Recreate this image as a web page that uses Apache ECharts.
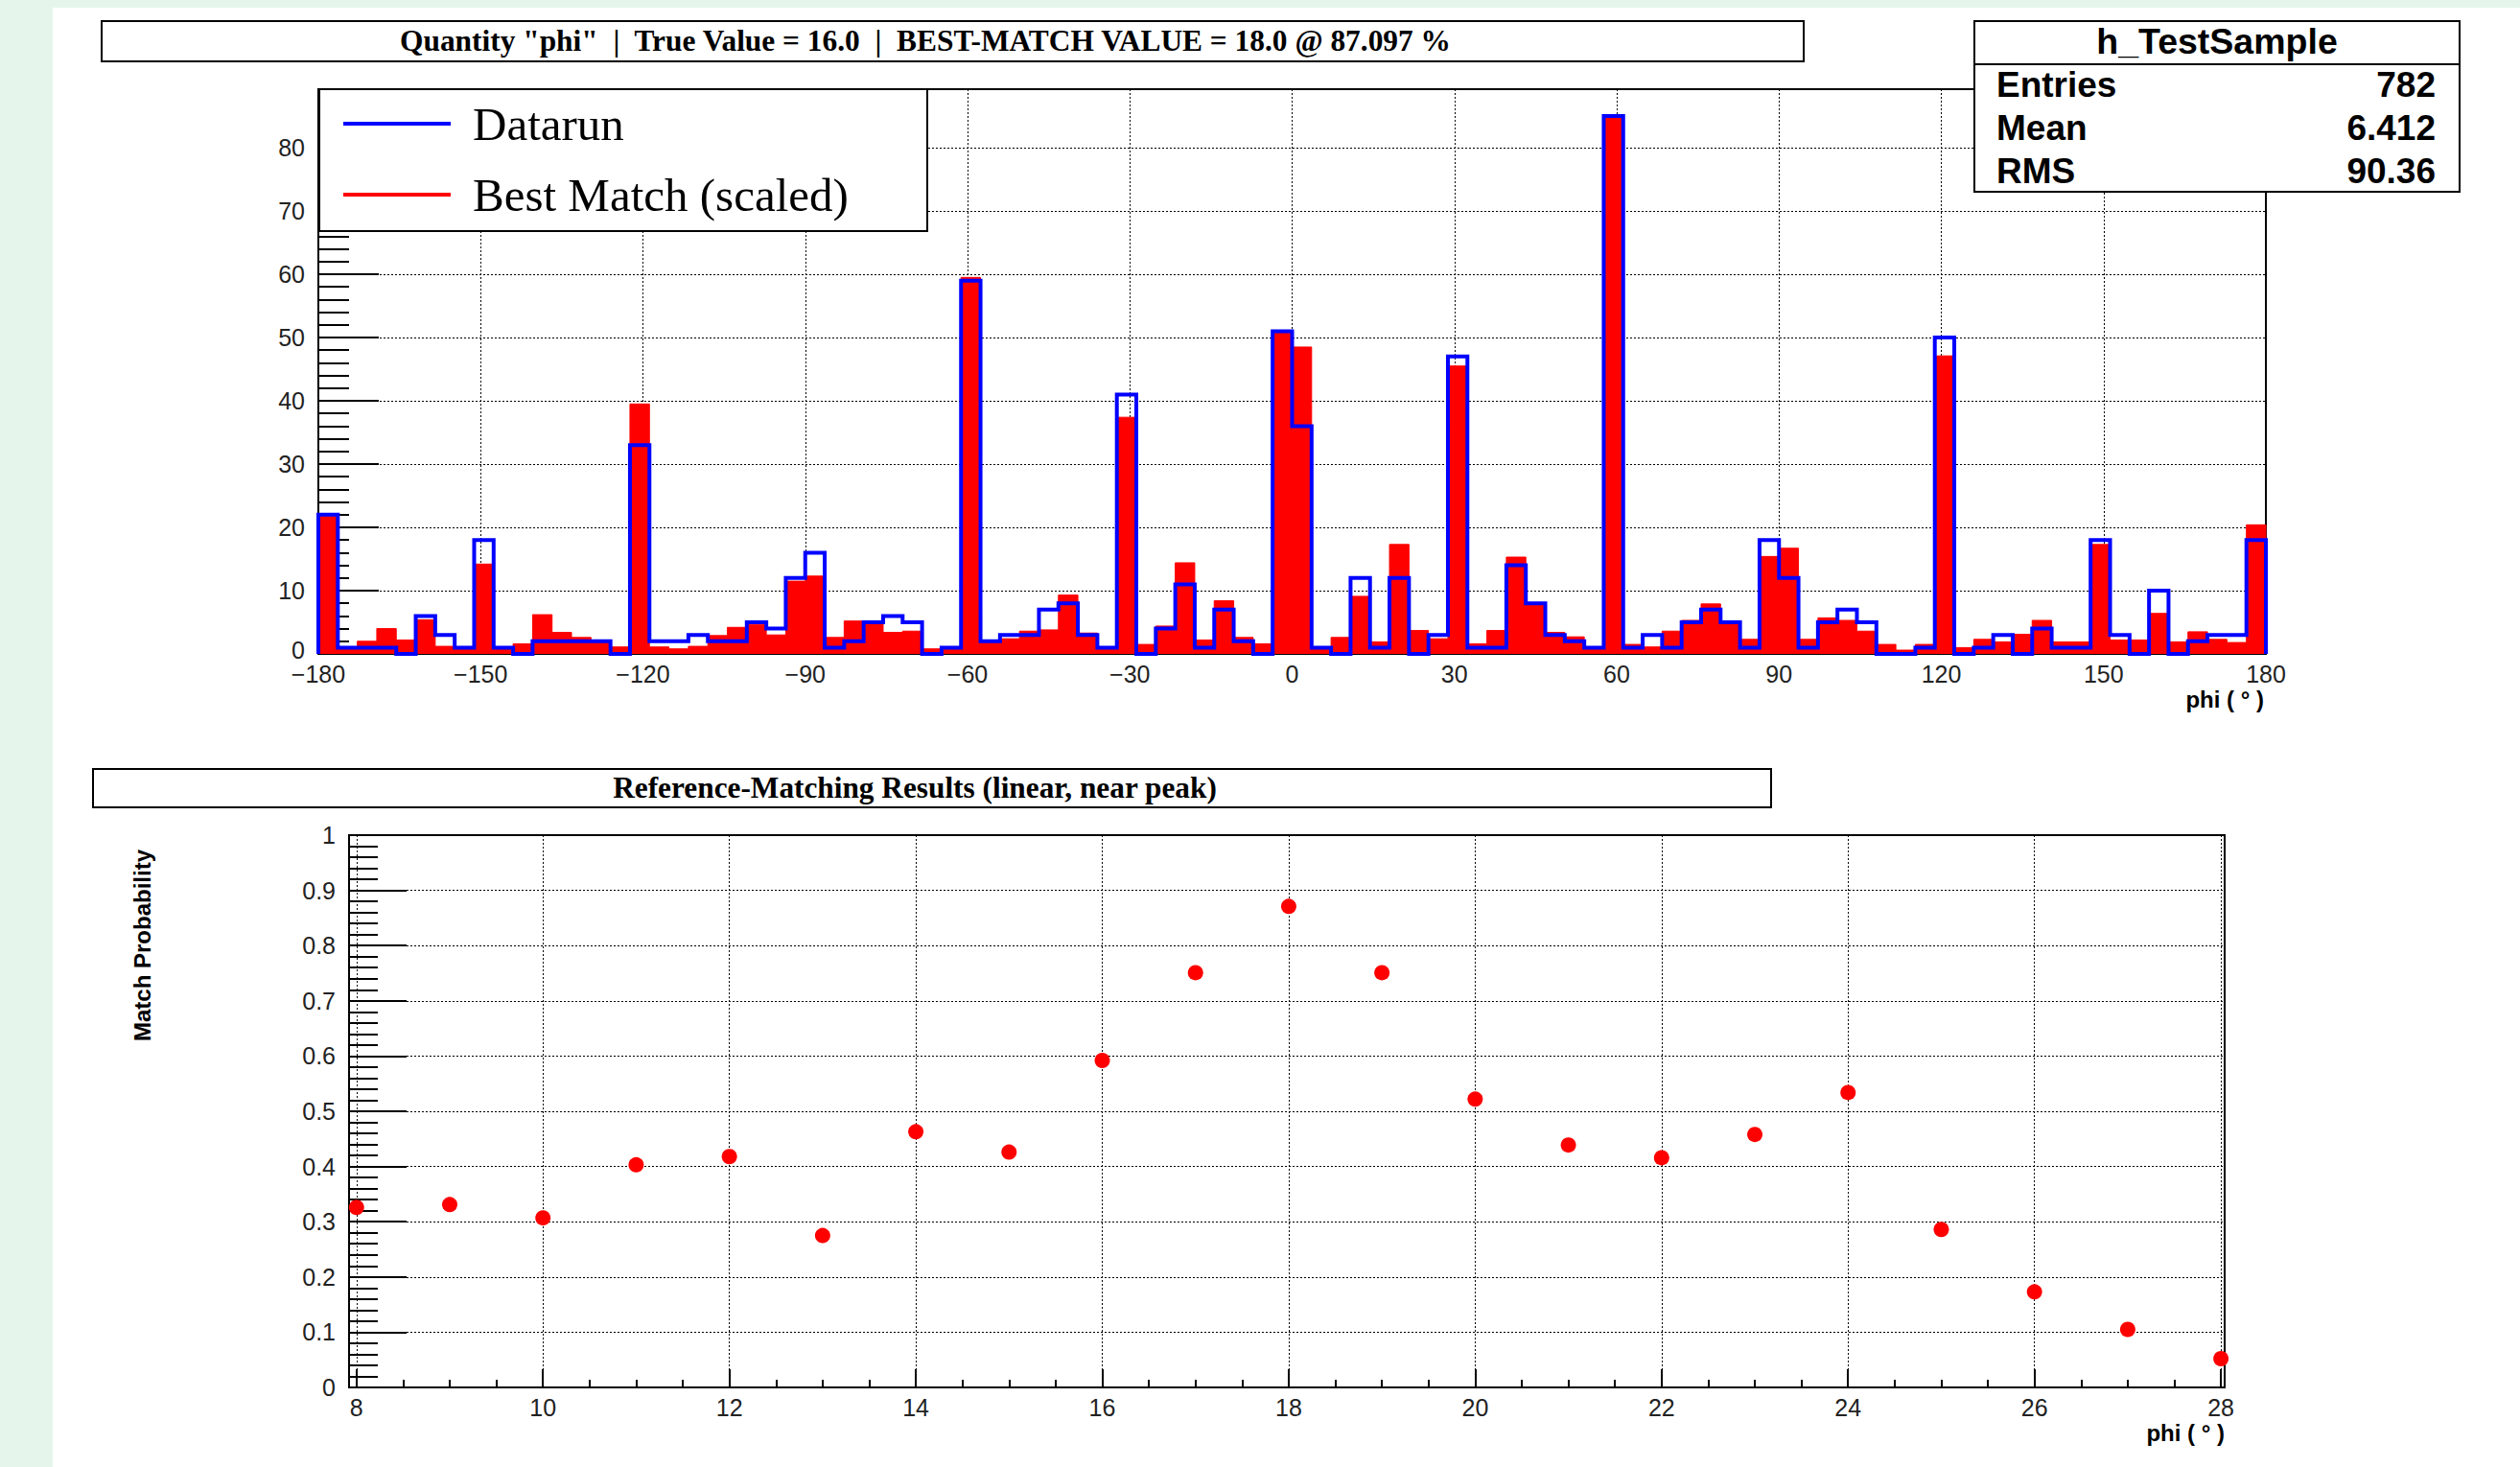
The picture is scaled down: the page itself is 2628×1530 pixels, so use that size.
<!DOCTYPE html>
<html>
<head>
<meta charset="utf-8">
<script src="https://cdn.jsdelivr.net/npm/echarts@6/dist/echarts.min.js"></script>
<style>
html,body{margin:0;padding:0;width:2628px;height:1530px;overflow:hidden;background:#e6f5ec;}
#paper{position:absolute;left:55px;top:8px;right:0;bottom:0;background:#ffffff;}
#chart{position:absolute;left:0;top:0;width:2628px;height:1530px;}
</style>
</head>
<body>
<div id="paper"></div>
<div id="chart"></div>
<script>
// ---------------- data ----------------
const HIST_MIN = -180;
const HIST_MAX = 180;

// Datarun (h_TestSample) bin contents, 100 bins over [-180, 180]
const dataRunCounts = [
  22, 1, 1, 1, 0, 6, 3, 1, 18, 1,
  0, 2, 2, 2, 2, 0, 33, 2, 2, 3,
  2, 2, 5, 4, 12, 16, 1, 2, 5, 6,
  5, 0, 1, 59, 2, 3, 3, 7, 8, 3,
  1, 41, 0, 4, 11, 1, 7, 2, 0, 51,
  36, 1, 0, 12, 1, 12, 0, 3, 47, 1,
  1, 14, 8, 3, 2, 1, 85, 1, 3, 1,
  5, 7, 5, 1, 18, 12, 1, 5, 7, 5,
  0, 0, 1, 50, 0, 1, 3, 0, 4, 1,
  1, 18, 3, 0, 10, 0, 2, 3, 3, 18
];

// Best Match (scaled) bin contents
const bestMatchScaled = [
  21.8, 1, 2, 4, 2.2, 5.4, 1.2, 1, 14.2, 1,
  1.6, 6.2, 3.4, 2.6, 2.2, 1.1, 39.5, 1.1, 0.8, 1.2,
  2.9, 4.2, 4.6, 3, 11.5, 12.3, 2.6, 5.2, 4.7, 3.4,
  3.6, 0.8, 1, 59.5, 1.8, 2.4, 3.6, 3.8, 9.3, 3.3,
  1, 37.4, 1.5, 4.4, 14.4, 2.2, 8.4, 2.6, 1.6, 51,
  48.5, 1, 2.6, 9.1, 1.9, 17.3, 3.7, 2.4, 45.5, 1.6,
  3.7, 15.3, 7.9, 3.4, 2.7, 1, 85, 1.5, 1.1, 3.6,
  5.3, 7.9, 4.7, 2.3, 15.4, 16.7, 2.3, 5.7, 5.3, 3.6,
  1.5, 0.6, 1.5, 47.1, 1, 2.3, 1.9, 3.1, 5.3, 1.9,
  1.9, 17.3, 2.2, 2.2, 6.4, 1.9, 3.5, 2.3, 1.8, 20.4
];

// Reference-matching scan
const phiScan = [8, 9, 10, 11, 12, 13, 14, 15, 16, 17, 18, 19, 20, 21, 22, 23, 24, 25, 26, 27, 28];
const matchProbability = [0.326, 0.331, 0.307, 0.403, 0.418, 0.275, 0.463, 0.426, 0.592, 0.751, 0.871,
  0.751, 0.522, 0.439, 0.416, 0.458, 0.534, 0.286, 0.173, 0.105, 0.052];

const titleTop = 'Quantity "phi"  |  True Value = 16.0  |  BEST-MATCH VALUE = 18.0 @ 87.097 %';
const titleBottom = 'Reference-Matching Results (linear, near peak)';
const statsName = 'h_TestSample';
const statsLabels = ['Entries', 'Mean', 'RMS'];
const statsValues = ['782', '6.412', '90.36'];
const legendNames = ['Datarun', 'Best Match (scaled)'];
const xTitle = 'phi ( \u00b0 )';
const yTitleBottom = 'Match Probability';

// ---------------- helpers ----------------
const binWidth = (HIST_MAX - HIST_MIN) / dataRunCounts.length;
function stepData(vals) {
  const d = [[HIST_MIN, 0]];
  vals.forEach((v, i) => d.push([HIST_MIN + i * binWidth, v]));
  d.push([HIST_MAX, vals[vals.length - 1]]);
  d.push([HIST_MAX, 0]);
  return d;
}
const minusFmt = v => String(v).replace('-', '\u2212');
const SANS = '"Liberation Sans", Arial, Helvetica, sans-serif';
const SERIF = '"Liberation Serif", "Times New Roman", serif';
const labelStyle = { fontFamily: SANS, fontSize: 25, color: '#222', lineHeight: 24 };
const gridDots = { show: true, lineStyle: { color: '#000', width: 1, type: [2, 2] } };
const blackAxis = { show: true, onZero: false, lineStyle: { color: '#000', width: 2 } };

function txt(text, x, y, font, align, vAlign, extra) {
  return Object.assign({
    type: 'text', x: x, y: y, z: 20,
    style: { text: text, font: font, fill: '#000',
      align: align, verticalAlign: vAlign, textAlign: align, textVerticalAlign: vAlign }
  }, extra || {});
}

const chart = echarts.init(document.getElementById('chart'), null, { renderer: 'svg', width: 2628, height: 1530 });

const option = {
  animation: false,
  backgroundColor: 'transparent',
  grid: [
    { left: 332, top: 93, width: 2031, height: 589, show: true, borderColor: '#000', borderWidth: 2, backgroundColor: 'transparent' },
    { left: 364, top: 871, width: 1956, height: 576, show: true, borderColor: '#000', borderWidth: 2, backgroundColor: 'transparent' }
  ],
  xAxis: [
    { gridIndex: 0, type: 'value', min: HIST_MIN, max: HIST_MAX, interval: 30,
      axisLine: blackAxis, axisTick: { show: false },
      axisLabel: Object.assign({ margin: 9, formatter: minusFmt }, labelStyle),
      splitLine: gridDots },
    { gridIndex: 1, type: 'value', position: 'bottom', min: 7.92, max: 28.04, minInterval: 2, maxInterval: 2,
      axisLine: blackAxis,
      axisTick: { show: true, inside: true, length: 19, lineStyle: { color: '#000', width: 2 } },
      axisLabel: Object.assign({ margin: 9, showMinLabel: false, showMaxLabel: false }, labelStyle),
      splitLine: gridDots },
    { gridIndex: 1, type: 'value', position: 'bottom', offset: 0, min: 7.92, max: 28.04, minInterval: 0.5, maxInterval: 0.5,
      axisLine: { show: false },
      axisTick: { show: true, inside: true, length: 8, lineStyle: { color: '#000', width: 2 } },
      axisLabel: { show: false }, splitLine: { show: false } }
  ],
  yAxis: [
    { gridIndex: 0, type: 'value', min: 0, max: 89.25, interval: 10,
      axisLine: blackAxis,
      axisTick: { show: true, inside: true, length: 63, lineStyle: { color: '#000', width: 2 } },
      minorTick: { show: true, splitNumber: 5, length: 32, lineStyle: { color: '#000', width: 2 } },
      axisLabel: Object.assign({ margin: 14, showMaxLabel: false,
        formatter: v => (v === 0 ? '{z|0}' : String(v)),
        rich: { z: { fontFamily: SANS, fontSize: 25, color: '#222', lineHeight: 24, padding: [0, 0, 8, 0] } } }, labelStyle),
      splitLine: gridDots },
    { gridIndex: 1, type: 'value', min: 0, max: 1, interval: 0.1,
      axisLine: blackAxis,
      axisTick: { show: true, inside: true, length: 60, lineStyle: { color: '#000', width: 2 } },
      minorTick: { show: true, splitNumber: 5, length: 30, lineStyle: { color: '#000', width: 2 } },
      axisLabel: Object.assign({ margin: 14 }, labelStyle),
      splitLine: gridDots }
  ],
  legend: {
    data: legendNames, orient: 'vertical', left: 358, top: 104, padding: 0,
    itemWidth: 112, itemHeight: 4, itemGap: 24, icon: 'rect', selectedMode: false, z: 30,
    textStyle: { fontFamily: SERIF, fontSize: 49, color: '#000', lineHeight: 50, padding: [0, 0, 0, 18] }
  },
  series: [
    { name: legendNames[1], type: 'line', xAxisIndex: 0, yAxisIndex: 0, data: stepData(bestMatchScaled),
      step: 'end', symbol: 'none', z: 2,
      lineStyle: { color: '#ff0000', width: 1 }, itemStyle: { color: '#ff0000' },
      areaStyle: { color: '#ff0000', opacity: 1 } },
    { name: legendNames[0], type: 'line', xAxisIndex: 0, yAxisIndex: 0, data: stepData(dataRunCounts),
      step: 'end', symbol: 'none', z: 3,
      lineStyle: { color: '#0000ff', width: 4, join: 'miter' }, itemStyle: { color: '#0000ff' } },
    { name: yTitleBottom, type: 'scatter', xAxisIndex: 1, yAxisIndex: 1,
      data: phiScan.map((x, i) => [x, matchProbability[i]]),
      symbol: 'circle', symbolSize: 16, clip: false, z: 4,
      itemStyle: { color: '#ff0000', opacity: 1 } }
  ],
  graphic: [
    // title box (top)
    { type: 'rect', z: 19, shape: { x: 106, y: 22, width: 1775, height: 42 }, style: { fill: '#fff', stroke: '#000', lineWidth: 2 } },
    txt(titleTop, 965, 42, 'bold 31.4px ' + SERIF, 'center', 'middle'),
    // legend box
    { type: 'rect', z: 19, shape: { x: 333, y: 93, width: 634, height: 148 }, style: { fill: '#fff', stroke: '#000', lineWidth: 2 } },
    // stats box
    { type: 'rect', z: 19, shape: { x: 2059, y: 22, width: 506, height: 178 }, style: { fill: '#fff', stroke: '#000', lineWidth: 2 } },
    { type: 'line', z: 20, shape: { x1: 2059, y1: 67, x2: 2565, y2: 67 }, style: { stroke: '#000', lineWidth: 2 } },
    txt(statsName, 2312, 43, 'bold 37.5px ' + SANS, 'center', 'middle'),
    txt(statsLabels[0], 2082, 88, 'bold 37px ' + SANS, 'left', 'middle'),
    txt(statsLabels[1], 2082, 133, 'bold 37px ' + SANS, 'left', 'middle'),
    txt(statsLabels[2], 2082, 178, 'bold 37px ' + SANS, 'left', 'middle'),
    txt(statsValues[0], 2540, 88, 'bold 37px ' + SANS, 'right', 'middle'),
    txt(statsValues[1], 2540, 133, 'bold 37px ' + SANS, 'right', 'middle'),
    txt(statsValues[2], 2540, 178, 'bold 37px ' + SANS, 'right', 'middle'),
    // axis titles
    txt(xTitle, 2361, 729, 'bold 24px ' + SANS, 'right', 'middle'),
    // bottom title box
    { type: 'rect', z: 19, shape: { x: 97, y: 802, width: 1750, height: 40 }, style: { fill: '#fff', stroke: '#000', lineWidth: 2 } },
    txt(titleBottom, 954, 821, 'bold 31.3px ' + SERIF, 'center', 'middle'),
    txt(xTitle, 2320, 1494, 'bold 24px ' + SANS, 'right', 'middle'),
    txt(yTitleBottom, 148, 986, 'bold 24px ' + SANS, 'center', 'middle', { rotation: Math.PI / 2 })
  ]
};
chart.setOption(option);
</script>
</body>
</html>
